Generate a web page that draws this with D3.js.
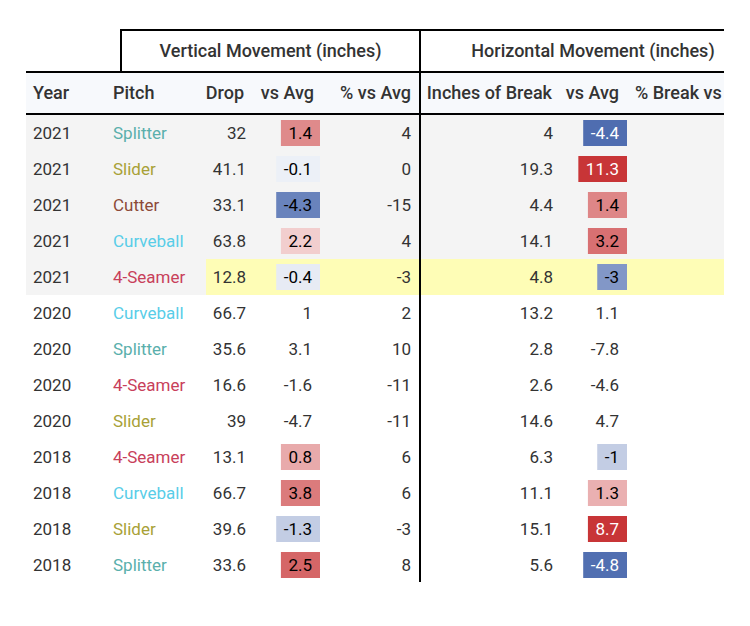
<!DOCTYPE html>
<meta charset="utf-8">
<style>
body { margin: 0; background: #fff; }
svg text { font-family: Roboto, "Noto Sans", sans-serif; }
.hdr { font-weight: 500; font-size: 18px; fill: #333; }
.cell { font-size: 17px; fill: #333; }
.rule { stroke: #000; stroke-width: 2; shape-rendering: crispEdges; }
</style>
<body>
<div id="chart"></div>
<script src="https://d3js.org/d3.v7.min.js"></script>
<script>

// table data, top to bottom
var years   = [2021, 2021, 2021, 2021, 2021, 2020, 2020, 2020, 2020, 2018, 2018, 2018, 2018];
var pitches = ["Splitter", "Slider", "Cutter", "Curveball", "4-Seamer", "Curveball", "Splitter",
               "4-Seamer", "Slider", "4-Seamer", "Curveball", "Slider", "Splitter"];
var drop        = [32, 41.1, 33.1, 63.8, 12.8, 66.7, 35.6, 16.6, 39, 13.1, 66.7, 39.6, 33.6];
var dropVsAvg   = [1.4, -0.1, -4.3, 2.2, -0.4, 1, 3.1, -1.6, -4.7, 0.8, 3.8, -1.3, 2.5];
var dropPct     = [4, 0, -15, 4, -3, 2, 10, -11, -11, 6, 6, -3, 8];
var breakIn     = [4, 19.3, 4.4, 14.1, 4.8, 13.2, 2.8, 2.6, 14.6, 6.3, 11.1, 15.1, 5.6];
var breakVsAvg  = [-4.4, 11.3, 1.4, 3.2, -3, 1.1, -7.8, -4.6, 4.7, -1, 1.3, 8.7, -4.8];
// heat shading of the "vs Avg" cells, -1 (blue) .. 1 (red); null = unshaded
var dropShade   = [0.55, -0.1, -0.8, 0.23, -0.13, null, null, null, null, 0.4, 0.62, -0.32, 0.72];
var breakShade  = [-0.94, 0.95, 0.57, 0.67, -0.67, null, null, null, null, -0.32, 0.37, 0.95, -0.93];

var groupHeaders = ["Vertical Movement (inches)", "Horizontal Movement (inches)"];
var colHeaders   = ["Year", "Pitch", "Drop", "vs Avg", "% vs Avg", "Inches of Break", "vs Avg", "% Break vs Avg"];
var highlightRow = 4;   // 2021 4-Seamer
var shadedYear   = 2021;

var pitchColor = d3.scaleOrdinal()
    .domain(["Splitter", "Slider", "Cutter", "Curveball", "4-Seamer"])
    .range(["#5aafac", "#a8a137", "#8c4a38", "#58cde8", "#c8405a"]);

var heat = d3.scaleLinear()
    .domain([-1, 0, 1])
    .range(["#4464ab", "#ffffff", "#c52a2c"]);

var W = 750, H = 626,
    left = 26, right = 724;

var svg = d3.select("#chart").append("svg")
    .attr("width", W)
    .attr("height", H);

svg.append("defs").append("clipPath").attr("id", "clip")
  .append("rect")
    .attr("x", left).attr("y", 0)
    .attr("width", right - left).attr("height", H);

var g = svg.append("g").attr("clip-path", "url(#clip)");

var rows = d3.range(years.length);
var y = d3.scaleBand()
    .domain(rows)
    .range([115, 115 + 36 * rows.length]);

// column anchors
var col = {
    year: 33, pitch: 113, drop: 246, dAvg: 312, dPct: 411,
    brk: 553, bAvg: 619, bPct: 765
};

//////////// backgrounds ////////////
g.append("rect")
    .attr("x", left).attr("y", 72)
    .attr("width", 800).attr("height", 42)
    .attr("fill", "#f7f9fc");

g.selectAll(".rowbg")
    .data(rows.filter(i => years[i] == shadedYear))
    .enter().append("rect")
    .attr("class", "rowbg")
    .attr("x", left)
    .attr("y", i => y(i))
    .attr("width", 800)
    .attr("height", y.bandwidth())
    .attr("fill", "#f4f4f4");

g.append("rect")
    .attr("x", 206)
    .attr("y", y(highlightRow))
    .attr("width", 800)
    .attr("height", y.bandwidth())
    .attr("fill", "#fefdb6");

//////////// header ////////////
g.append("text").attr("class", "hdr")
    .attr("x", (121 + 420) / 2).attr("y", 57)
    .attr("text-anchor", "middle")
    .text(groupHeaders[0]);
g.append("text").attr("class", "hdr")
    .attr("x", (420 + 766) / 2).attr("y", 57)
    .attr("text-anchor", "middle")
    .text(groupHeaders[1]);

var hdrPos = [
    [col.year, "start"], [col.pitch, "start"], [col.drop - 2, "end"], [col.dAvg + 2, "end"],
    [col.dPct, "end"], [col.brk - 1, "end"], [col.bAvg, "end"], [635, "start"]
];
g.selectAll(".colhdr")
    .data(colHeaders)
    .enter().append("text")
    .attr("class", "hdr colhdr")
    .attr("x", (d, i) => hdrPos[i][0])
    .attr("y", 99)
    .attr("text-anchor", (d, i) => hdrPos[i][1])
    .text(d => d);

//////////// rules ////////////
g.append("line").attr("class", "rule").attr("x1", 120).attr("x2", 800).attr("y1", 30).attr("y2", 30);
g.append("line").attr("class", "rule").attr("x1", 121).attr("x2", 121).attr("y1", 30).attr("y2", 72);
g.append("line").attr("class", "rule").attr("x1", left).attr("x2", 800).attr("y1", 72).attr("y2", 72);
g.append("line").attr("class", "rule").attr("x1", left).attr("x2", 800).attr("y1", 114).attr("y2", 114);
g.append("line").attr("class", "rule").attr("x1", 420).attr("x2", 420).attr("y1", 30).attr("y2", y.range()[1] - 1);

//////////// cells ////////////
var base = i => y(i) + y.bandwidth() / 2 + 6;

function textCol(values, x, anchor, colorFn) {
    g.selectAll(null)
        .data(rows)
        .enter().append("text")
        .attr("class", "cell")
        .attr("x", x)
        .attr("y", base)
        .attr("text-anchor", anchor)
        .style("fill", colorFn ? (i => colorFn(values[i])) : null)
        .text(i => values[i]);
}

textCol(years, col.year, "start");
textCol(pitches, col.pitch, "start", pitchColor);
textCol(drop, col.drop, "end");
textCol(dropPct, col.dPct, "end");
textCol(breakIn, col.brk, "end");

function heatCol(values, shades, x) {
    var cells = g.selectAll(null)
        .data(rows)
        .enter().append("g");

    var rects = cells.append("rect");
    var labels = cells.append("text")
        .attr("class", "cell")
        .attr("x", x)
        .attr("y", base)
        .attr("text-anchor", "end")
        .style("fill", i => shades[i] == null ? null : (Math.abs(shades[i]) > 0.85 ? "#fff" : "#000"))
        .text(i => values[i]);

    labels.each(function(i) {
        var w = this.getComputedTextLength();
        d3.select(this.parentNode).select("rect")
            .attr("x", x - w - 7.5)
            .attr("y", y(i) + 5)
            .attr("width", w + 15.5)
            .attr("height", 26)
            .attr("fill", shades[i] == null ? "none" : heat(shades[i]));
    });
}

heatCol(dropVsAvg, dropShade, col.dAvg);
heatCol(breakVsAvg, breakShade, col.bAvg);

</script>
</body>
